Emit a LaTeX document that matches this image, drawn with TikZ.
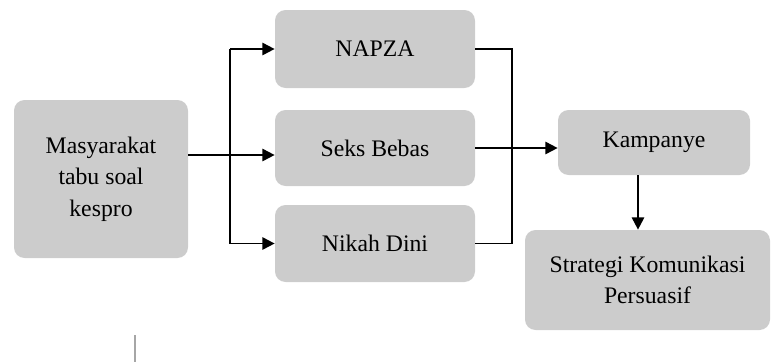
\documentclass[tikz,border=0pt]{standalone}
\usepackage{fontspec}
\setmainfont{Liberation Serif}
\usepackage{xcolor}
\usetikzlibrary{calc, positioning, arrows.meta}

\definecolor{boxgray}{RGB}{204,204,204}

\begin{document}
\begin{tikzpicture}[
  kotak/.style = {fill=boxgray, rounded corners=6pt, align=center, inner sep=0pt,
                  font=\fontsize{13.5}{18}\selectfont},
  panah/.style = {-{Triangle[length=7pt,width=7pt]}, line width=1.1pt},
  garis/.style = {line width=1.1pt}
]
\useasboundingbox (0,0) rectangle (15.42,-7.24);

\node[kotak, minimum width=3.48cm, minimum height=3.16cm] (masy) at (2.02,-3.58)
  {Masyarakat\\tabu soal\\kespro};

\node[kotak, minimum width=4.0cm, minimum height=1.56cm] (napza) at (7.5,-0.98) {NAPZA};
\node[kotak, minimum width=4.0cm, minimum height=1.52cm] (seks) at (7.5,-2.96) {Seks Bebas};
\node[kotak, minimum width=4.0cm, minimum height=1.54cm] (nikah) at (7.5,-4.87) {Nikah Dini};

\node[kotak, minimum width=3.84cm, minimum height=1.3cm] (kamp) at (13.08,-2.85) {Kampanye};
\node[kotak, minimum width=4.9cm, minimum height=2.0cm] (strat) at (12.95,-5.6)
  {Strategi Komunikasi\\Persuasif};

% cabang kiri
\coordinate (cabang) at (4.6,-3.1);
\draw[panah] (masy.east |- cabang) -- (seks.west |- cabang);
\draw[garis] (cabang |- napza) -- (cabang |- nikah);
\draw[panah] (cabang |- napza) -- (napza.west);
\draw[panah] (cabang |- nikah) -- (nikah.west);

% gabung kanan
\coordinate (gabung) at (10.24,0);
\draw[garis] (napza.east) -- (gabung |- napza) -- (gabung |- nikah) -- (nikah.east);
\draw[panah] (seks.east) -- (kamp.west |- seks.east);

\coordinate (turun) at (12.76,0);
\draw[panah] (kamp.south -| turun) -- (strat.north -| turun);

% garis kecil di bawah
\draw[gray!70, line width=0.8pt] (2.7,-6.7) -- (2.7,-7.24);
\end{tikzpicture}
\end{document}
